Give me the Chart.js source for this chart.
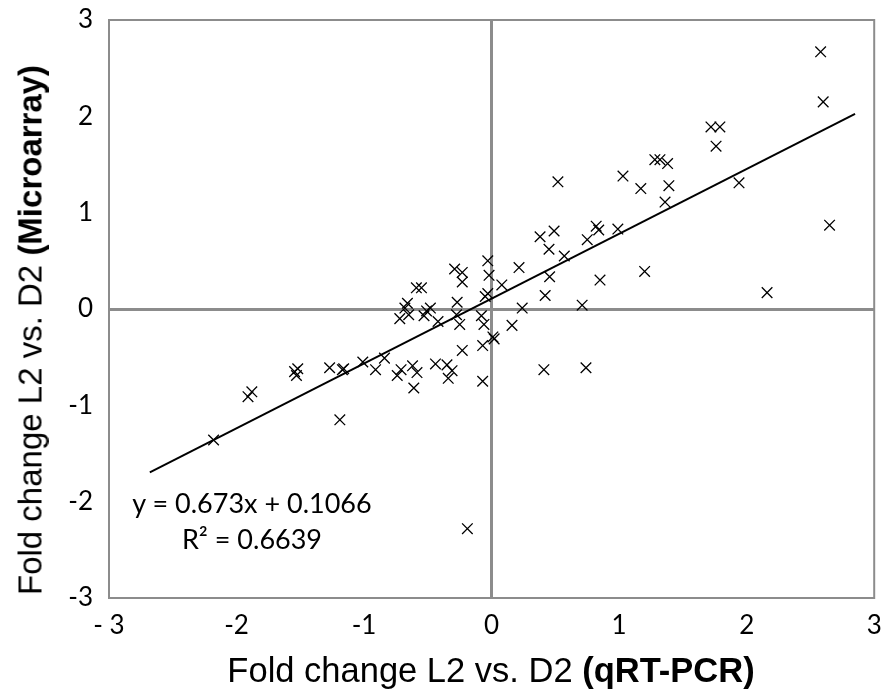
<!DOCTYPE html>
<html>
<head>
<meta charset="utf-8">
<script src="https://cdn.jsdelivr.net/npm/chart.js@4.4.0/dist/chart.umd.min.js"></script>
<style>
  body { margin: 0; background: #fff; }
  #wrap { position: relative; width: 883px; height: 693px; }
  .axisTitle {
    position: absolute;
    font-family: "Liberation Sans", Arial, sans-serif;
    line-height: 1;
    color: #000;
    white-space: nowrap;
  }
  #xTitle { left: 491px; top: 653px; font-size: 34.5px; transform: translateX(-50%); }
  #yTitle { left: 30px; top: 330px; font-size: 33px; transform: translate(-50%, -50%) rotate(-90deg); }
  #equation {
    position: absolute;
    left: 252px;
    top: 485px;
    transform: translateX(-50%);
    font-family: Lato, "Open Sans", sans-serif;
    font-size: 27px;
    line-height: 36px;
    text-align: center;
    white-space: nowrap;
    color: #000;
  }
</style>
</head>
<body>
<div id="wrap">
  <canvas id="scatterChart" width="883" height="693"></canvas>
  <div class="axisTitle" id="xTitle">Fold change L2 vs. D2 <b>(qRT-PCR)</b></div>
  <div class="axisTitle" id="yTitle">Fold change L2 vs. D2 <b>(Microarray)</b></div>
  <div id="equation">y = 0.673x + 0.1066<br>R² = 0.6639</div>
</div>
<script>
// fold change measured by qRT-PCR (x) and microarray (y), one entry per gene
const pcrFold = [
  2.58, 2.60, 1.72, 1.79, 1.76, 1.94, 2.65, 2.16,
  1.28, 1.32, 1.38, 1.03, 1.17, 1.39, 1.36,
  0.82, 0.84, 0.99, 0.52, 0.75, 0.38, 0.49, 0.45, 0.57,
  -0.03, -0.02, 0.08, -0.05, -0.03, 0.215, 0.455, 0.42, 0.85, 1.20, 0.24, 0.71,
  -0.08, -0.06, 0.16, 0.01, 0.02, -0.07, 0.41, 0.74, -0.07,
  -0.29, -0.23, -0.23, -0.59, -0.55, -0.66, -0.68, -0.65, -0.72,
  -0.51, -0.48, -0.53, -0.42, -0.27, -0.275, -0.25, -0.23,
  -0.84, -0.91, -0.71, -0.74, -0.62, -0.585, -0.61, -0.44, -0.35, -0.31, -0.34,
  -1.88, -1.91, -1.52, -1.545, -1.53, -1.27, -1.17, -1.16, -1.01, -1.19, -2.18, -0.19
];
const arrayFold = [
  2.67, 2.15, 1.89, 1.89, 1.69, 1.31, 0.87, 0.17,
  1.55, 1.55, 1.51, 1.38, 1.25, 1.28, 1.11,
  0.86, 0.82, 0.83, 1.32, 0.72, 0.75, 0.81, 0.62, 0.55,
  0.50, 0.35, 0.25, 0.13, 0.16, 0.43, 0.335, 0.14, 0.30, 0.39, 0.01, 0.04,
  -0.07, -0.16, -0.17, -0.29, -0.31, -0.38, -0.63, -0.61, -0.75,
  0.415, 0.38, 0.28, 0.22, 0.22, 0.06, 0.01, -0.06, -0.10,
  -0.02, 0.01, -0.07, -0.13, 0.07, -0.06, -0.16, -0.43,
  -0.51, -0.63, -0.63, -0.69, -0.59, -0.66, -0.82, -0.57, -0.58, -0.64, -0.72,
  -0.86, -0.91, -0.62, -0.65, -0.69, -0.61, -0.63, -0.62, -0.55, -1.15, -1.36, -2.28
];

// linear trendline reported on the chart
const slope = 0.673;
const intercept = 0.1066;
const trendX = [-2.68, 2.85];

const xTickValues = [-3, -2, -1, 0, 1, 2, 3];
const xTickLabels = ['- 3', '-2', '-1', '0', '1', '2', '3'];
const yTickValues = [-3, -2, -1, 0, 1, 2, 3];
const yTickLabels = ['-3', '-2', '-1', '0', '1', '2', '3'];

const axisGray = '#8c8c8c';

const points = pcrFold.map((x, i) => ({ x: x, y: arrayFold[i] }));
const trendPoints = trendX.map(x => ({ x: x, y: slope * x + intercept }));

const frameBox = {
  id: 'frameBox',
  beforeDatasetsDraw(chart) {
    const a = chart.chartArea;
    const ctx = chart.ctx;
    ctx.save();
    ctx.strokeStyle = axisGray;
    ctx.lineWidth = 2;
    ctx.strokeRect(a.left, a.top, a.right - a.left, a.bottom - a.top);
    ctx.restore();
  }
};

function zeroGrid(ctx) {
  return ctx.tick && ctx.tick.value === 0 ? axisGray : 'rgba(0,0,0,0)';
}
function zeroWidth(ctx) {
  return ctx.tick && ctx.tick.value === 0 ? 3 : 0;
}

const ctx = document.getElementById('scatterChart').getContext('2d');
new Chart(ctx, {
  type: 'scatter',
  data: {
    datasets: [
      {
        label: 'genes',
        data: points,
        pointStyle: 'crossRot',
        pointRadius: 7.5,
        pointHoverRadius: 7.5,
        borderColor: '#000',
        backgroundColor: '#000',
        borderWidth: 1.3
      },
      {
        label: 'trend',
        data: trendPoints,
        showLine: true,
        pointRadius: 0,
        borderColor: '#000',
        borderWidth: 2
      }
    ]
  },
  options: {
    responsive: false,
    animation: false,
    layout: { padding: { left: 0, right: 7, top: 20, bottom: 0 } },
    plugins: { legend: { display: false }, tooltip: { enabled: false } },
    scales: {
      x: {
        min: -3,
        max: 3,
        afterBuildTicks: s => { s.ticks = xTickValues.map(v => ({ value: v })); },
        afterFit: s => { s.height = 95; s.paddingLeft = 0; s.paddingRight = 0; },
        grid: { color: zeroGrid, lineWidth: zeroWidth, drawTicks: false },
        border: { display: false },
        ticks: {
          padding: 12,
          color: '#000',
          font: { family: 'Lato', size: 26 },
          maxRotation: 0,
          callback: v => xTickLabels[xTickValues.indexOf(v)]
        }
      },
      y: {
        min: -3,
        max: 3,
        afterBuildTicks: s => { s.ticks = yTickValues.map(v => ({ value: v })); },
        afterFit: s => { s.width = 109; s.paddingTop = 0; s.paddingBottom = 0; },
        grid: { color: zeroGrid, lineWidth: zeroWidth, drawTicks: false },
        border: { display: false },
        ticks: {
          padding: 16,
          color: '#000',
          font: { family: 'Lato', size: 26 },
          callback: v => yTickLabels[yTickValues.indexOf(v)]
        }
      }
    }
  },
  plugins: [frameBox]
});
</script>
</body>
</html>
